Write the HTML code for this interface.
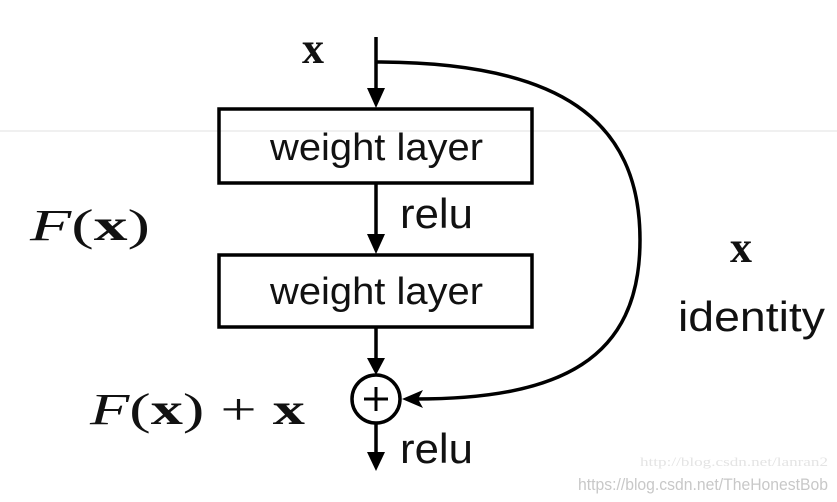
<!DOCTYPE html>
<html><head><style>body{margin:0;background:#fff}</style></head><body>
<svg width="837" height="502" xmlns="http://www.w3.org/2000/svg" style="display:block">
<rect width="837" height="502" fill="#fff"/>
<line x1="0" y1="131" x2="837" y2="131" stroke="#f0f0f0" stroke-width="2"/>
<g stroke="#000" stroke-width="3.5" fill="none">
<line x1="376" y1="37" x2="376" y2="92"/>
<rect x="219" y="109" width="313" height="74"/>
<line x1="376" y1="183" x2="376" y2="238"/>
<rect x="219" y="255" width="313" height="72"/>
<line x1="376" y1="327" x2="376" y2="362"/>
<circle cx="376" cy="399" r="24"/>
<line x1="364" y1="399" x2="388" y2="399" stroke-width="3"/>
<line x1="376" y1="387" x2="376" y2="411" stroke-width="3"/>
<line x1="376" y1="423" x2="376" y2="455"/>
<path d="M376 62 C560 62 640 120 640 240 C640 360 560 399 415 399"/>
</g>
<g fill="#000">
<polygon points="367,88 385,88 376,108"/>
<polygon points="367,234 385,234 376,254"/>
<polygon points="367,358 385,358 376,375"/>
<polygon points="367,452 385,452 376,471"/>
<polygon points="402,399 423,390 418,399 423,408"/>
</g>
<g font-family="Liberation Sans, sans-serif" fill="#111">
<text x="270" y="160" font-size="38" textLength="213" lengthAdjust="spacingAndGlyphs">weight layer</text>
<text x="270" y="304" font-size="38" textLength="213" lengthAdjust="spacingAndGlyphs">weight layer</text>
<text x="400" y="228" font-size="42" textLength="73" lengthAdjust="spacingAndGlyphs">relu</text>
<text x="400" y="463" font-size="42" textLength="73" lengthAdjust="spacingAndGlyphs">relu</text>
<text x="678" y="331" font-size="42" textLength="147" lengthAdjust="spacingAndGlyphs">identity</text>
</g>
<g font-family="Liberation Serif, serif" font-size="44" fill="#111">
<text x="302" y="63" font-weight="bold">x</text>
<text x="730" y="262" font-weight="bold">x</text>
<text x="30" y="240" textLength="120" lengthAdjust="spacingAndGlyphs"><tspan font-style="italic">F</tspan>(<tspan font-weight="bold">x</tspan>)</text>
<text x="90" y="424" textLength="215" lengthAdjust="spacingAndGlyphs"><tspan font-style="italic">F</tspan>(<tspan font-weight="bold">x</tspan>) + <tspan font-weight="bold">x</tspan></text>
</g>
<text x="640" y="466" font-family="Liberation Serif, serif" font-size="13" fill="#e4e4e4" textLength="188" lengthAdjust="spacingAndGlyphs">http://blog.csdn.net/lanran2</text>
<text x="578" y="490" font-family="Liberation Sans, sans-serif" font-size="17" fill="#c8c8c8" textLength="250" lengthAdjust="spacingAndGlyphs">https://blog.csdn.net/TheHonestBob</text>
</svg>
</body></html>
